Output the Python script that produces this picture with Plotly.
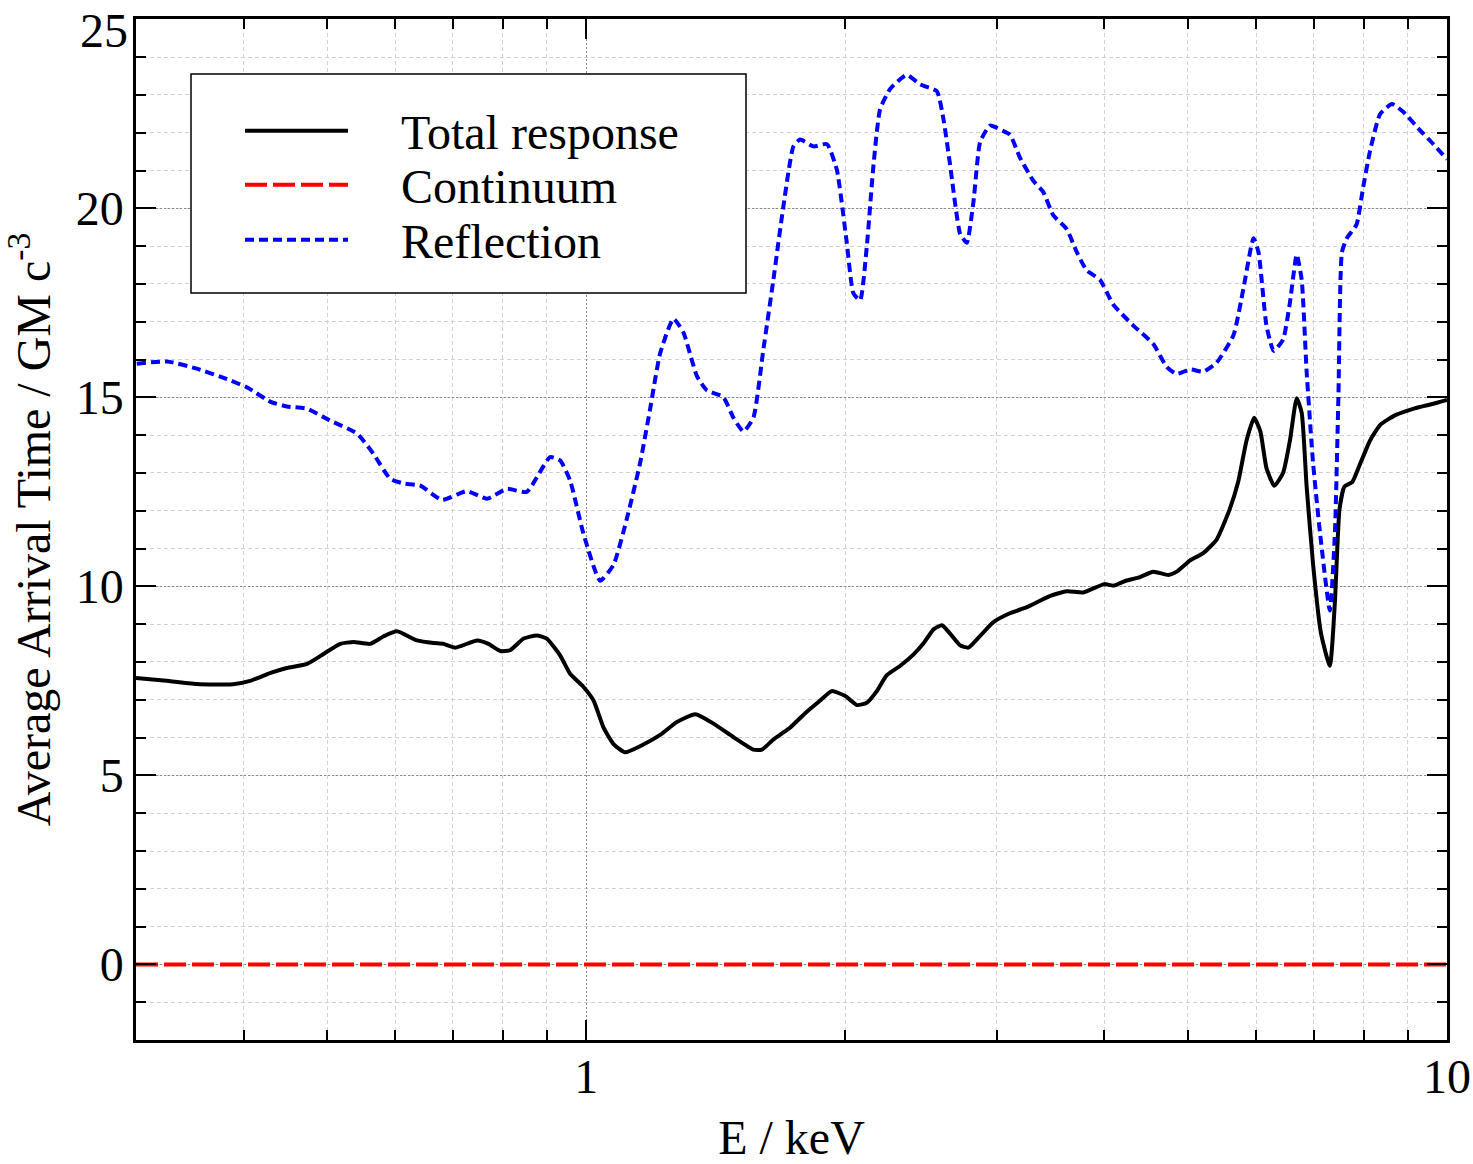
import plotly.graph_objects as go

# ---------------- data ----------------
total_E = [0.300, 0.323, 0.353, 0.389, 0.407, 0.430, 0.449, 0.474, 0.496, 0.518, 0.537, 0.561,
           0.582, 0.603, 0.636, 0.665, 0.683, 0.705, 0.747, 0.770, 0.795, 0.816, 0.846, 0.876,
           0.900, 0.933, 0.958, 0.993, 1.020, 1.047, 1.076, 1.110, 1.155, 1.219, 1.274, 1.339,
           1.406, 1.483, 1.564, 1.600, 1.650, 1.725, 1.803, 1.870, 1.929, 2.000, 2.063, 2.118,
           2.176, 2.235, 2.317, 2.401, 2.467, 2.534, 2.590, 2.647, 2.719, 2.780, 2.869, 2.970,
           3.106, 3.250, 3.460, 3.617, 3.780, 3.998, 4.097, 4.236, 4.380, 4.559, 4.746, 4.853,
           5.03, 5.21, 5.40, 5.59, 5.72, 5.85, 5.97, 6.07, 6.17, 6.30, 6.45, 6.57, 6.69, 6.78,
           6.87, 6.99, 7.14, 7.31, 7.41, 7.50, 7.60, 7.76, 7.91, 8.14, 8.37, 8.71, 9.17, 9.64, 10.0]
total_t = [7.58, 7.51, 7.42, 7.41, 7.50, 7.71, 7.84, 7.95, 8.22, 8.48, 8.53, 8.48,
           8.68, 8.81, 8.57, 8.50, 8.48, 8.38, 8.57, 8.48, 8.29, 8.31, 8.62, 8.70,
           8.62, 8.17, 7.69, 7.34, 6.98, 6.28, 5.83, 5.61, 5.77, 6.07, 6.41, 6.62,
           6.37, 6.01, 5.68, 5.68, 5.95, 6.26, 6.68, 6.98, 7.23, 7.10, 6.86, 6.92,
           7.23, 7.65, 7.90, 8.20, 8.50, 8.87, 8.97, 8.75, 8.44, 8.38, 8.69, 9.05,
           9.29, 9.45, 9.75, 9.87, 9.84, 10.06, 10.02, 10.15, 10.23, 10.39, 10.30, 10.39,
           10.69, 10.88, 11.24, 12.03, 12.76, 13.86, 14.46, 14.10, 13.13, 12.66, 13.00, 13.86, 14.98, 14.59,
           12.64, 10.57, 8.75, 7.90, 9.60, 12.03, 12.64, 12.76, 13.19, 13.86, 14.28, 14.53, 14.71, 14.83, 14.93]

continuum_E = [0.3, 10.0]
continuum_t = [0.0, 0.0]

refl_E = [0.3006, 0.326, 0.353, 0.383, 0.404, 0.430, 0.449, 0.474, 0.504, 0.542, 0.566, 0.592,
          0.614, 0.641, 0.680, 0.727, 0.767, 0.809, 0.853, 0.908, 0.933, 0.958, 0.993, 1.038,
          1.076, 1.115, 1.155, 1.187, 1.219, 1.263, 1.297, 1.345, 1.381, 1.443, 1.483, 1.523,
          1.564, 1.607, 1.650, 1.695, 1.741, 1.772, 1.837, 1.904, 1.955, 2.008, 2.044, 2.081,
          2.118, 2.157, 2.195, 2.255, 2.357, 2.443, 2.555, 2.600, 2.647, 2.719, 2.768, 2.818,
          2.869, 2.946, 3.05, 3.108, 3.19, 3.307, 3.397, 3.488, 3.617, 3.715, 3.815, 3.953,
          4.097, 4.322, 4.559, 4.726, 4.853, 5.03, 5.21, 5.40, 5.65, 5.80, 5.96, 6.04,
          6.17, 6.29, 6.45, 6.57, 6.69, 6.78, 6.87, 6.99, 7.12, 7.31, 7.41, 7.48,
          7.55, 7.65, 7.85, 7.99, 8.14, 8.36, 8.63, 8.90, 9.30, 9.64, 10.0]
refl_t = [15.89, 15.95, 15.76, 15.48, 15.26, 14.88, 14.76, 14.70, 14.39, 14.04, 13.51, 12.85,
          12.72, 12.67, 12.29, 12.52, 12.32, 12.58, 12.50, 13.42, 13.33, 12.80, 11.39, 10.15,
          10.57, 11.79, 13.25, 14.71, 16.17, 17.08, 16.72, 15.56, 15.19, 15.01, 14.46, 14.10,
          14.46, 16.29, 18.11, 20.06, 21.64, 21.82, 21.64, 21.70, 21.03, 19.09, 17.75, 17.57,
          18.97, 21.16, 22.62, 23.16, 23.53, 23.28, 23.10, 22.37, 21.16, 19.33, 19.09, 20.18,
          21.76, 22.19, 22.05, 21.95, 21.35, 20.73, 20.43, 19.82, 19.45, 18.84, 18.36, 18.11,
          17.45, 16.90, 16.41, 15.80, 15.62, 15.74, 15.68, 15.92, 16.65, 17.87, 19.21, 18.84,
          16.90, 16.23, 16.53, 17.51, 18.78, 18.11, 15.68, 13.25, 11.42, 9.36, 11.42, 15.07,
          18.84, 19.21, 19.57, 20.55, 21.52, 22.49, 22.76, 22.55, 22.07, 21.70, 21.30]

series_names = ["Total response", "Continuum", "Reflection"]
x_tick_vals = [1, 10]
x_tick_text = ["1", "10"]
x_minor_vals = [0.4, 0.5, 0.6, 0.7, 0.8, 0.9, 2, 3, 4, 5, 6, 7, 8, 9]
y_tick_vals = [0, 5, 10, 15, 20, 25]
y_tick_text = ["0", "5", "10", "15", "20", ""]   # top label drawn below as an annotation (sits lower in the original)
y_top_label = "25"

# ---------------- figure ----------------
FONT = "Liberation Serif"
NB = "\u00a0"

fig = go.Figure()
fig.add_trace(go.Scatter(x=total_E, y=total_t, mode="lines", name=NB * 4 + series_names[0],
                         line=dict(color="black", width=4, shape="spline", smoothing=0.5),
                         legend="legend"))
fig.add_trace(go.Scatter(x=continuum_E, y=continuum_t, mode="lines", name=NB * 4 + series_names[1],
                         line=dict(color="red", width=4, dash="22px,6px"),
                         legend="legend2"))
fig.add_trace(go.Scatter(x=refl_E, y=refl_t, mode="lines", name=NB * 4 + series_names[2],
                         line=dict(color="blue", width=4, dash="9px,5px", shape="spline", smoothing=0.5),
                         legend="legend3"))

L, R, T, B = 136, 26, 19, 124
W, H = 1473, 1164
pw, ph = W - L - R, H - T - B

def px2paper(x, y):
    return (x - L) / pw, (H - B - y) / ph

leg_common = dict(bgcolor="rgba(0,0,0,0)", borderwidth=0, font=dict(family=FONT, size=48, color="black"),
                  xanchor="left", yanchor="middle", itemwidth=103)
lx, _ = px2paper(240, 0)
legs = {}
for key, ycen in zip(["legend", "legend2", "legend3"], [131, 185, 240]):
    _, ly = px2paper(0, ycen)
    legs[key] = dict(leg_common, x=lx, y=ly)

bx0, by1 = px2paper(191, 74)
bx1, by0 = px2paper(746, 293)

axis_common = dict(showline=True, linecolor="black", linewidth=2.5, mirror="allticks",
                   ticks="inside", tickcolor="black", tickwidth=2, ticklen=20,
                   tickfont=dict(family=FONT, size=48, color="black"),
                   ticklabeloverflow="allow", zeroline=False)

fig.update_layout(
    width=W, height=H,
    margin=dict(l=L, r=R, t=T, b=B, autoexpand=False),
    paper_bgcolor="white", plot_bgcolor="white",
    font=dict(family=FONT, size=48, color="black"),
    showlegend=True,
    legend=legs["legend"], legend2=legs["legend2"], legend3=legs["legend3"],
    xaxis=dict(axis_common, type="log", range=[-0.5229, 1.0],
               tickmode="array", tickvals=x_tick_vals, ticktext=x_tick_text,
               ticklabelstandoff=-7,
               showgrid=True, gridcolor="#8a8a8a", griddash="2px,2px", gridwidth=1,
               minor=dict(tickmode="array", tickvals=x_minor_vals, ticklen=10, tickwidth=2,
                          tickcolor="black", ticks="inside", showgrid=True,
                          gridcolor="#d2d2d2", griddash="4px,3px", gridwidth=1),
               title=dict(text="E / keV", font=dict(family=FONT, size=48), standoff=26),
               automargin=False),
    yaxis=dict(axis_common, range=[-2, 25.01], tickmode="array",
               tickvals=y_tick_vals, ticktext=y_tick_text,
               showgrid=True, gridcolor="#8a8a8a", griddash="2px,2px", gridwidth=1,
               minor=dict(tickmode="linear", tick0=0, dtick=1, ticklen=10, tickwidth=2,
                          tickcolor="black", ticks="inside",
                          showgrid=True, gridcolor="#d2d2d2", griddash="4px,3px", gridwidth=1),
               title=dict(text="Average Arrival Time / GM c<sup>-3</sup>",
                          font=dict(family=FONT, size=48), standoff=10),
               automargin=False),
    shapes=[dict(type="rect", xref="paper", yref="paper", x0=bx0, x1=bx1, y0=by0, y1=by1,
                 line=dict(color="black", width=1.5), fillcolor="white", layer="above")],
    annotations=[dict(text=y_top_label, xref="paper", yref="y", x=0, y=y_tick_vals[-1],
                      xanchor="right", yanchor="middle", xshift=-6, yshift=-11, showarrow=False,
                      font=dict(family=FONT, size=48, color="black"))],
)

fig.write_html("out.html", config={"displayModeBar": False})

# remove the browser's default page margin so the figure sits at the window origin
with open("out.html", "r", encoding="utf-8") as f:
    html = f.read()
html = html.replace("<head>", "<head><style>html,body{margin:0;padding:0;overflow:hidden;}</style>", 1)
with open("out.html", "w", encoding="utf-8") as f:
    f.write(html)
